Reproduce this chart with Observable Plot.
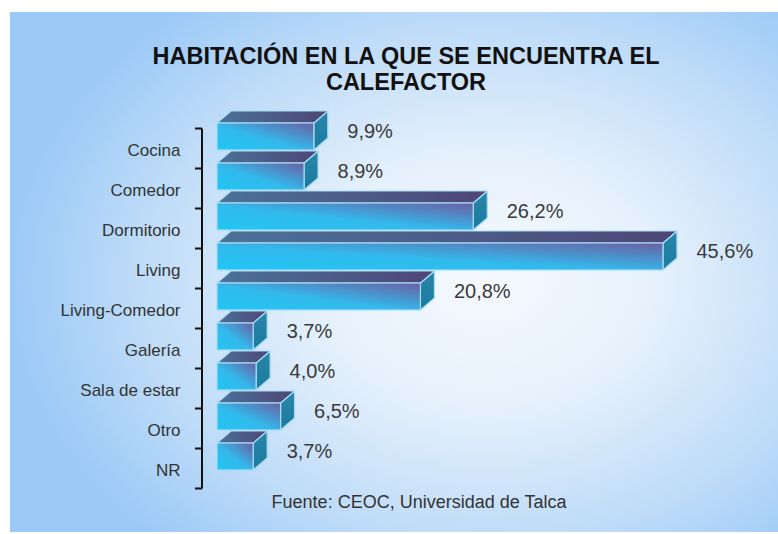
<!DOCTYPE html>
<html>
<head>
<meta charset="utf-8">
<script src="https://cdn.jsdelivr.net/npm/d3@7"></script>
<script src="https://cdn.jsdelivr.net/npm/@observablehq/plot@0.6"></script>
<style>
  html, body { margin: 0; padding: 0; background: #fff; }
</style>
</head>
<body>
<div id="chart"></div>
<script>
// ---- data ----
const categories = ["Cocina", "Comedor", "Dormitorio", "Living", "Living-Comedor", "Galería", "Sala de estar", "Otro", "NR"];
const values = [9.9, 8.9, 26.2, 45.6, 20.8, 3.7, 4.0, 6.5, 3.7];
const valueLabels = ["9,9%", "8,9%", "26,2%", "45,6%", "20,8%", "3,7%", "4,0%", "6,5%", "3,7%"];
const titleLine1 = ["HABITACIÓN EN LA QUE SE ENCUENTRA EL"];
const titleLine2 = ["CALEFACTOR"];
const sourceNote = ["Fuente: CEOC, Universidad de Talca"];

const data = categories.map((c, i) => ({category: c, value: values[i], label: valueLabels[i]}));

// 3D look parameters (pixels)
const DEPTH_X = 14, DEPTH_Y = 12, LIFT = 12, AXIS_GAP = 15;
const EDGE = "#a9dcf6";

function defsMark() {
  const svg = d3.create("svg:g");
  const defs = svg.append("defs");
  const f = defs.append("linearGradient").attr("id", "gFront")
    .attr("x1", 0).attr("y1", 1).attr("x2", 1).attr("y2", 0);
  f.append("stop").attr("offset", "0%").attr("stop-color", "#1fc6f4");
  f.append("stop").attr("offset", "45%").attr("stop-color", "#33b9ec");
  f.append("stop").attr("offset", "100%").attr("stop-color", "#6b5fa2");
  const t = defs.append("linearGradient").attr("id", "gTop")
    .attr("x1", 0).attr("y1", 0).attr("x2", 1).attr("y2", 0);
  t.append("stop").attr("offset", "0%").attr("stop-color", "#4a7299");
  t.append("stop").attr("offset", "100%").attr("stop-color", "#4e4677");
  const s = defs.append("linearGradient").attr("id", "gSide")
    .attr("x1", 0).attr("y1", 0).attr("x2", 0).attr("y2", 1);
  s.append("stop").attr("offset", "0%").attr("stop-color", "#2a86a8");
  s.append("stop").attr("offset", "100%").attr("stop-color", "#1a7aa0");
  return () => svg.node();
}

function facesMark(kind) {
  return (index, scales) => {
    const {x, y} = scales;
    const bw = y.bandwidth();
    const g = d3.create("svg:g");
    for (const d of data.slice().reverse()) {
      const x0 = x(0), x1 = x(d.value);
      const t = y(d.category) - LIFT, b = t + bw;
      const pts = kind === "top"
        ? [[x0, t], [x0 + DEPTH_X, t - DEPTH_Y], [x1 + DEPTH_X, t - DEPTH_Y], [x1, t]]
        : [[x1, t], [x1 + DEPTH_X, t - DEPTH_Y], [x1 + DEPTH_X, b - DEPTH_Y], [x1, b]];
      g.append("polygon")
        .attr("points", pts.map(p => p.join(",")).join(" "))
        .attr("fill", kind === "top" ? "url(#gTop)" : "url(#gSide)")
        .attr("stroke", EDGE).attr("stroke-width", 1.2).attr("stroke-linejoin", "round");
    }
    return g.node();
  };
}

function axisMark(index, scales) {
  const {x, y} = scales;
  const bw = y.bandwidth();
  const centers = categories.map(c => y(c) + bw / 2);
  const n = centers.length;
  const bounds = [centers[0] - (centers[1] - centers[0]) / 2];
  for (let k = 1; k < n; k++) bounds.push((centers[k - 1] + centers[k]) / 2);
  bounds.push(centers[n - 1] + (centers[n - 1] - centers[n - 2]) / 2);
  const ax = x(0) - AXIS_GAP;
  const g = d3.create("svg:g").attr("stroke", "#111").attr("stroke-width", 2).attr("fill", "none");
  g.append("line").attr("x1", ax).attr("x2", ax).attr("y1", bounds[0]).attr("y2", bounds[n]);
  for (const b of bounds) g.append("line").attr("x1", ax - 7).attr("x2", ax).attr("y1", b).attr("y2", b);
  return g.node();
}

const chart = Plot.plot({
  width: 778,
  height: 534,
  marginLeft: 217,
  marginRight: 72,
  marginTop: 125,
  marginBottom: 41,
  style: "background: radial-gradient(ellipse 62% 68% at 62% 52%, #f5f9fe 0%, #e6f1fc 35%, #bfdcf8 72%, #9ccaf7 100%) 10px 12px / 768px 520px no-repeat, #ffffff; font-family: 'Liberation Sans', Arial, sans-serif; color: #333;",
  x: {domain: [0, 50], axis: null},
  y: {domain: categories, paddingInner: 0.315, paddingOuter: 0.1575, align: 0.5, axis: null},
  marks: [
    defsMark(),
    axisMark,
    facesMark("side"),
    facesMark("top"),
    Plot.barX(data, {x: "value", y: "category", dy: -LIFT, fill: "url(#gFront)", stroke: EDGE, strokeWidth: 1.2}),
    Plot.text(categories, {y: d => d, frameAnchor: "left", dx: -37, dy: 2, textAnchor: "end", fontSize: 17, fill: "#333"}),
    Plot.text(data, {x: "value", y: "category", text: "label", dx: 33, dy: -17, textAnchor: "start", fontSize: 20, fill: "#3a3a3a"}),
    Plot.text(titleLine1, {frameAnchor: "top", text: d => d, dx: -56, dy: -78, fontSize: 23.5, fontWeight: "bold", fill: "#111"}),
    Plot.text(titleLine2, {frameAnchor: "top", text: d => d, dx: -56, dy: -52, fontSize: 23.5, fontWeight: "bold", fill: "#111"}),
    Plot.text(sourceNote, {frameAnchor: "bottom", text: d => d, dx: -43, dy: 14, fontSize: 18, fill: "#333"})
  ]
});
document.getElementById("chart").appendChild(chart);
</script>
</body>
</html>
